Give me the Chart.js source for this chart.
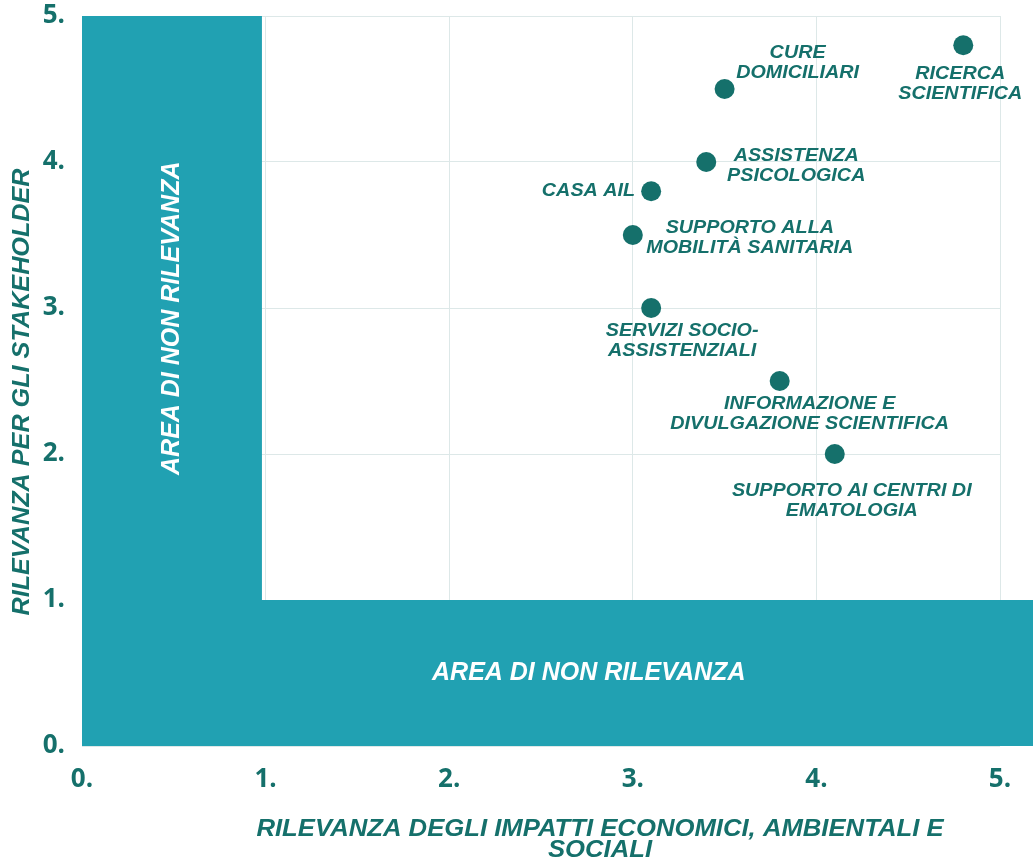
<!DOCTYPE html>
<html>
<head>
<meta charset="utf-8">
<script src="https://cdn.jsdelivr.net/npm/chart.js@4.4.1/dist/chart.umd.min.js"></script>
<style>
  html, body { margin: 0; padding: 0; background: #ffffff; }
  #wrap { width: 1033px; height: 868px; position: relative; }
</style>
</head>
<body>
<div id="wrap"><canvas id="c" width="1033" height="868"></canvas></div>
<script>
// ---- data ----
const itemNames = [
  "RICERCA\nSCIENTIFICA",
  "CURE\nDOMICILIARI",
  "ASSISTENZA\nPSICOLOGICA",
  "CASA AIL",
  "SUPPORTO ALLA\nMOBILITÀ SANITARIA",
  "SERVIZI SOCIO-\nASSISTENZIALI",
  "INFORMAZIONE E\nDIVULGAZIONE SCIENTIFICA",
  "SUPPORTO AI CENTRI DI\nEMATOLOGIA"
];
const impactValues      = [4.8, 3.5, 3.4, 3.1, 3.0, 3.1, 3.8, 4.1];
const stakeholderValues = [4.8, 4.5, 4.0, 3.8, 3.5, 3.0, 2.5, 2.0];
const tickValues = [0, 1, 2, 3, 4, 5];
const tickLabels = ["0.", "1.", "2.", "3.", "4.", "5."];
const xAxisTitle = ["RILEVANZA DEGLI IMPATTI ECONOMICI, AMBIENTALI E", "SOCIALI"];
const yAxisTitle = "RILEVANZA PER GLI STAKEHOLDER";
const zoneLabel = "AREA DI NON RILEVANZA";
const zoneThresholdX = 0.98;
const zoneThresholdY = 1;

// ---- styling / placement (not data) ----
const DARK = "#15706b";
const TEAL = "#21a1b2";
const GRID = "#dde8e8";
const SANS = "'Liberation Sans', Arial, sans-serif";
// label offsets in px relative to the point: [dx, dy, align]
const labelPlacement = [
  [-3, 39, "center"],
  [73, -26, "center"],
  [90, 4, "center"],
  [-16, 0, "right"],
  [117, 3, "center"],
  [31, 33, "center"],
  [30, 33, "center"],
  [17, 47, "center"]
];

const points = impactValues.map((x, i) => ({ x: x, y: stakeholderValues[i] }));

function drawText(ctx, text, x, y, font, align, sx, rot) {
  ctx.save();
  ctx.translate(x, y);
  if (rot) ctx.rotate(rot);
  ctx.scale(sx, 1);
  ctx.font = font;
  ctx.textAlign = align;
  ctx.textBaseline = "middle";
  ctx.fillText(text, 0, 0);
  ctx.restore();
}

const zonesPlugin = {
  id: "zones",
  beforeDatasetsDraw(chart) {
    const { ctx, scales: { x, y } } = chart;
    const x0 = x.getPixelForValue(0), x1 = x.getPixelForValue(zoneThresholdX);
    const y0 = y.getPixelForValue(0), y1 = y.getPixelForValue(zoneThresholdY), y5 = y.getPixelForValue(5);
    ctx.save();
    ctx.fillStyle = TEAL;
    ctx.fillRect(x0, y5, x1 - x0, y0 - y5);
    ctx.fillRect(x0, y1, chart.width - x0, y0 - y1);
    ctx.fillStyle = "#ffffff";
    const f = "italic bold 25px " + SANS;
    drawText(ctx, zoneLabel, x.getPixelForValue(2.76), y.getPixelForValue(0.5), f, "center", 1, 0);
    drawText(ctx, zoneLabel, x.getPixelForValue(0.49), y.getPixelForValue(2.93), f, "center", 1, -Math.PI / 2);
    ctx.restore();
  },
  afterDatasetsDraw(chart) {
    const { ctx } = chart;
    const meta = chart.getDatasetMeta(0);
    ctx.save();
    ctx.fillStyle = DARK;
    const f = "italic bold 19px " + SANS;
    const lh = 20;
    meta.data.forEach((el, i) => {
      const lines = itemNames[i].split("\n");
      const [dx, dy, al] = labelPlacement[i];
      const cy = el.y + dy - (lines.length - 1) * lh / 2;
      lines.forEach((ln, k) => drawText(ctx, ln, el.x + dx, cy + k * lh, f, al, 1.04, 0));
    });
    ctx.restore();
  },
  afterDraw(chart) {
    const { ctx } = chart;
    ctx.save();
    ctx.fillStyle = DARK;
    const f = "italic bold 24px " + SANS;
    drawText(ctx, xAxisTitle[0], 600, 829, f, "center", 1.07, 0);
    drawText(ctx, xAxisTitle[1], 600, 850, f, "center", 1.07, 0);
    drawText(ctx, yAxisTitle, 22, 392, f, "center", 1.05, -Math.PI / 2);
    ctx.restore();
  }
};

new Chart(document.getElementById("c"), {
  type: "scatter",
  data: {
    datasets: [{
      data: points,
      backgroundColor: DARK,
      borderColor: DARK,
      borderWidth: 0,
      pointRadius: 10,
      pointHoverRadius: 10
    }]
  },
  options: {
    responsive: false,
    animation: false,
    layout: { padding: { left: 40, right: 33, top: 16, bottom: 0 } },
    plugins: { legend: { display: false }, tooltip: { enabled: false } },
    scales: {
      x: {
        type: "linear", min: 0, max: 5,
        afterBuildTicks(s) { s.ticks = tickValues.map(v => ({ value: v })); },
        afterFit(s) { s.height = 122; s.paddingLeft = 0; s.paddingRight = 0; },
        grid: { color: GRID, drawTicks: false },
        border: { display: false },
        ticks: {
          padding: 18,
          color: DARK,
          font: { family: "'Open Sans'", weight: "bold", size: 26 },
          callback: (v) => tickLabels[tickValues.indexOf(v)]
        }
      },
      y: {
        type: "linear", min: 0, max: 5,
        afterBuildTicks(s) { s.ticks = tickValues.map(v => ({ value: v })); },
        afterFit(s) { s.width = 42; s.paddingTop = 0; s.paddingBottom = 0; },
        grid: { color: GRID, drawTicks: false },
        border: { display: false },
        ticks: {
          padding: 17,
          color: DARK,
          font: { family: "'Open Sans'", weight: "bold", size: 26 },
          callback: (v) => tickLabels[tickValues.indexOf(v)]
        }
      }
    }
  },
  plugins: [zonesPlugin]
});
</script>
</body>
</html>
